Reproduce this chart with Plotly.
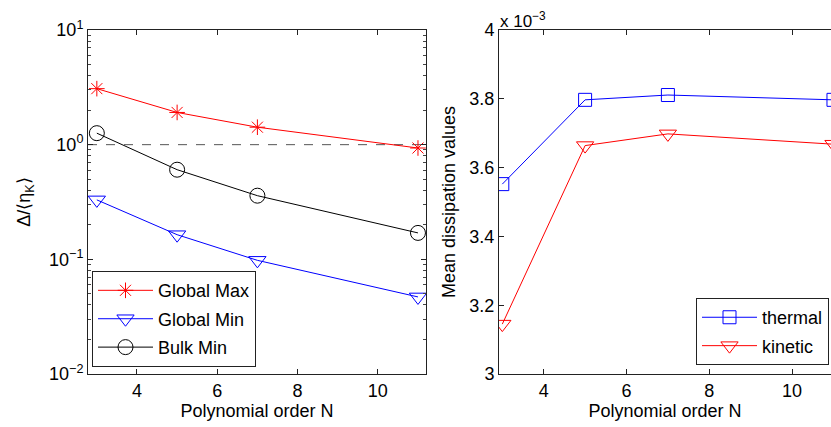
import plotly.graph_objects as go

# ---- data ----
N = [3, 5, 7, 11]
global_max = [3.08, 1.91, 1.42, 0.935]
global_min = [0.33, 0.164, 0.098, 0.047]
bulk_min = [1.26, 0.605, 0.359, 0.170]
ref_level = 1.0

thermal = [3.552e-3, 3.797e-3, 3.811e-3, 3.797e-3]
kinetic = [3.145e-3, 3.664e-3, 3.698e-3, 3.668e-3]

x_ticks = [4, 6, 8, 10]
left_yticks = [10, 1, 0.1, 0.01]
left_ytext = ["10<sup>1</sup>", "10<sup>0</sup>", "10<sup>−1</sup>", "10<sup>−2</sup>"]
left_minor = [m * d for d in (0.01, 0.1, 1) for m in range(2, 10)]
right_yticks = [3.0e-3, 3.2e-3, 3.4e-3, 3.6e-3, 3.8e-3, 4.0e-3]
right_ytext = ["3", "3.2", "3.4", "3.6", "3.8", "4"]

FONT = "Liberation Sans, Arial, Helvetica, sans-serif"
RED = "#ff0000"
BLUE = "#0000ff"
BLACK = "#000000"

fig = go.Figure()

fig.add_trace(go.Scatter(x=N, y=global_max, name="Global Max", mode="lines+markers",
                         line=dict(color=RED, width=1), legendgroup="a",
                         marker=dict(symbol="asterisk-open", size=13, color=RED, line=dict(width=1, color=RED)),
                         xaxis="x", yaxis="y", legend="legend"))
fig.add_trace(go.Scatter(x=N, y=global_min, name="Global Min", mode="lines+markers",
                         line=dict(color=BLUE, width=1), legendgroup="b",
                         marker=dict(symbol="triangle-down-open", size=15, color=BLUE, line=dict(width=1, color=BLUE)),
                         xaxis="x", yaxis="y", legend="legend"))
fig.add_trace(go.Scatter(x=N, y=bulk_min, name="Bulk Min", mode="lines+markers",
                         line=dict(color=BLACK, width=1), legendgroup="c",
                         marker=dict(symbol="circle-open", size=15, color=BLACK, line=dict(width=1, color=BLACK)),
                         xaxis="x", yaxis="y", legend="legend"))

fig.add_trace(go.Scatter(x=N, y=thermal, name="thermal", mode="lines+markers",
                         line=dict(color=BLUE, width=1), legendgroup="d",
                         marker=dict(symbol="square-open", size=13, color=BLUE, line=dict(width=1, color=BLUE)),
                         xaxis="x2", yaxis="y2", legend="legend2"))
fig.add_trace(go.Scatter(x=N, y=kinetic, name="kinetic", mode="lines+markers",
                         line=dict(color=RED, width=1), legendgroup="e",
                         marker=dict(symbol="triangle-down-open", size=15, color=RED, line=dict(width=1, color=RED)),
                         xaxis="x2", yaxis="y2", legend="legend2"))

fig.add_shape(type="line", xref="x domain", yref="y", x0=0, x1=1, y0=ref_level, y1=ref_level,
              line=dict(color="#555555", width=1, dash="dash"), layer="below")

axis_common = dict(showgrid=False, zeroline=False, showline=True, linecolor="#222222", linewidth=1,
                   ticks="inside", ticklen=5, tickcolor="#222222",
                   tickfont=dict(family=FONT, size=18, color="black"))

W, H = 831, 427
fig.update_layout(
    width=W, height=H,
    margin=dict(l=0, r=0, t=30, b=53),
    paper_bgcolor="white", plot_bgcolor="white",
    font=dict(family=FONT, size=18, color="black"),
    xaxis=dict(domain=[88 / W, 426 / W], range=[2.78, 11.2], tickvals=x_ticks, mirror="ticks",
               title=dict(text="Polynomial order N", font=dict(size=18), standoff=3), **axis_common),
    yaxis=dict(type="log", range=[-2, 1], tickvals=left_yticks, ticktext=left_ytext, mirror="ticks",
               minor=dict(ticks="inside", ticklen=3, tickcolor="#444444", showgrid=False, tickvals=left_minor),
               title=dict(text="Δ/⟨η<sub>K</sub>⟩", font=dict(size=18), standoff=13), **axis_common),
    xaxis2=dict(domain=[499 / W, 1.0], range=[2.92, 10.94], tickvals=x_ticks, mirror="ticks", anchor="y2",
                title=dict(text="Polynomial order N", font=dict(size=18), standoff=3), **axis_common),
    yaxis2=dict(range=[3.0e-3, 4.0e-3], tickvals=right_yticks, ticktext=right_ytext, anchor="x2",
                title=dict(text="Mean dissipation values", font=dict(size=18), standoff=9), **axis_common),
    legend=dict(x=92 / W, y=0.02, xanchor="left", yanchor="bottom", bgcolor="white",
                bordercolor="#222222", borderwidth=1, font=dict(family=FONT, size=18), itemwidth=55,
                tracegroupgap=2),
    legend2=dict(x=829 / W, y=0.026, xanchor="right", yanchor="bottom", bgcolor="white",
                 bordercolor="#222222", borderwidth=1, font=dict(family=FONT, size=18), itemwidth=55,
                 tracegroupgap=2),
    showlegend=True,
)

fig.add_annotation(text="x 10<sup>−3</sup>", xref="paper", yref="paper", x=498 / W, y=1.0,
                   xanchor="left", yanchor="bottom", showarrow=False, yshift=-3,
                   font=dict(family=FONT, size=17, color="black"))

fig.write_html("out.html")
